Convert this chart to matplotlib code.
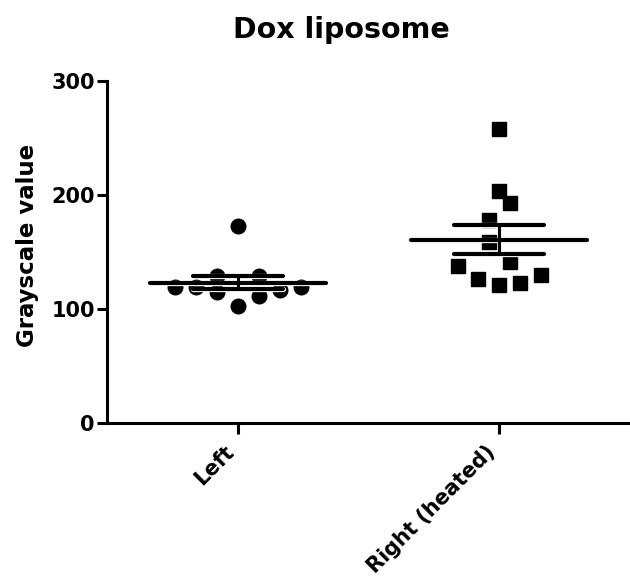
import numpy as np
import matplotlib.pyplot as plt
import matplotlib.patheffects as pe

# Values
groups = ["Left", "Right (heated)"]
left_vals = [118.7, 118.7, 128.4, 114.4, 172.2, 102.1, 128.4, 110.9, 116.7, 118.7]
right_vals = [257.7, 202.8, 192.6, 178.0, 158.1, 140.6, 137.7, 126.1, 121.1, 122.6, 129.2]
# horizontal scatter slots of each point (GraphPad style column scatter)
left_slots = [-3, -2, -1, -1, 0, 0, 1, 1, 2, 3]
right_slots = [0, 0, 0.5, -0.5, -0.5, 0.5, -2, -1, 0, 1, 2]
yticks = [0, 100, 200, 300]

step = 0.08
halo = [pe.Stroke(linewidth=3.8, foreground="white"), pe.Normal()]

fig = plt.figure(figsize=(6.3, 5.78), dpi=100)
ax = fig.add_axes([0.1703, 0.2687, 0.8297, 0.5917])

for i, (vals, slots, mk, ms) in enumerate([(left_vals, left_slots, "o", 10.5),
                                            (right_vals, right_slots, "s", 10)]):
    vals = np.array(vals)
    xs = i + np.array(slots) * step
    ax.plot(xs, vals, ls="none", marker=mk, ms=ms, color="black", mec="black", clip_on=False, zorder=2)
    m = vals.mean()
    sem = vals.std(ddof=1) / np.sqrt(len(vals))
    # mean line, error bar and caps
    ax.plot([i - 0.337, i + 0.337], [m, m], color="black", lw=3.0, solid_capstyle="round",
            path_effects=halo, zorder=3)
    for y in (m - sem, m + sem):
        ax.plot([i - 0.172, i + 0.172], [y, y], color="black", lw=3.0, solid_capstyle="round",
                path_effects=halo, zorder=3)
    ax.plot([i, i], [m - sem, m + sem], color="black", lw=2.2, zorder=3)

ax.set_xlim(-0.5, 1.5)
ax.set_ylim(0, 300)
ax.set_yticks(yticks)
ax.set_xticks(range(len(groups)))
ax.set_xticklabels(groups, rotation=45, ha="right")

ax.spines["top"].set_visible(False)
ax.spines["right"].set_visible(False)
for s in ("left", "bottom"):
    ax.spines[s].set_linewidth(2.2)
ax.tick_params(axis="y", length=7, width=2.2, pad=2, labelsize=15)
ax.tick_params(axis="x", length=8, width=2.2, pad=6, labelsize=15)
for lab in ax.get_xticklabels() + ax.get_yticklabels():
    lab.set_fontweight("bold")

ax.set_ylabel("Grayscale value", fontsize=16.5, fontweight="bold")
ax.yaxis.set_label_coords(-0.13, 0.517)

fig.text(341 / 630, 1 - 29.5 / 578, "Dox liposome", fontsize=20.5, fontweight="bold",
         ha="center", va="center")

fig.savefig("out.png", dpi=100)
